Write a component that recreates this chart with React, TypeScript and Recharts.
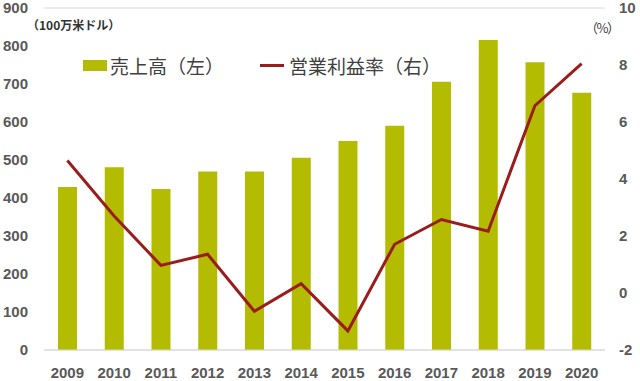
import { ComposedChart, Bar, Line, XAxis, YAxis, CartesianGrid } from 'recharts';

const years = ['2009', '2010', '2011', '2012', '2013', '2014', '2015', '2016', '2017', '2018', '2019', '2020'];
const sales = [429, 481, 424, 470, 470, 506, 550, 590, 706, 816, 757, 677];
const margin = [4.65, 2.7, 0.97, 1.36, -0.64, 0.33, -1.33, 1.71, 2.58, 2.17, 6.57, 8.05];
const leftTicks = [0, 100, 200, 300, 400, 500, 600, 700, 800, 900];
const rightTicks = [-2, 0, 2, 4, 6, 8, 10];

const BAR_COLOR = '#B3BC00';
const LINE_COLOR = '#9A1C1C';
const TICK_COLOR = '#595959';

const data = years.map((y, i) => ({ year: y, sales: sales[i], margin: margin[i] }));

const tickStyle = { fill: TICK_COLOR, fontSize: 15, fontWeight: 700, fontFamily: '"Liberation Sans", Arial, sans-serif' };

function LegendBox() {
  const text = { fontSize: 19, color: '#404040', fontFamily: '"Noto Sans CJK JP", sans-serif' };
  return (
    <div style={{ position: 'absolute', left: 83, top: 52, display: 'flex', alignItems: 'center', whiteSpace: 'nowrap' }}>
      <span style={{ width: 24, height: 11, background: BAR_COLOR, display: 'inline-block', marginRight: 3 }} />
      <span style={text}>売上高（左）</span>
      <span style={{ width: 24, height: 3, background: LINE_COLOR, display: 'inline-block', marginLeft: 36, marginRight: 5 }} />
      <span style={text}>営業利益率（右）</span>
    </div>
  );
}

export default function App() {
  return (
    <div style={{ position: 'absolute', left: 0, top: 0, width: 640, height: 381, background: '#fff' }}>
      <ComposedChart width={640} height={381} data={data} margin={{ top: 8, right: 0, left: 0, bottom: 0 }}>
        <CartesianGrid vertical={false} stroke="#D9D9D9" />
        <XAxis
          dataKey="year"
          height={31}
          axisLine={{ stroke: '#D9D9D9' }}
          tickLine={false}
          tickSize={0}
          tickMargin={17}
          tick={tickStyle}
          interval={0}
        />
        <YAxis
          yAxisId="left"
          width={44}
          domain={[0, 900]}
          ticks={leftTicks}
          axisLine={false}
          tickLine={false}
          tickSize={0}
          tickMargin={16}
          tick={tickStyle}
          interval={0}
        />
        <YAxis
          yAxisId="right"
          orientation="right"
          width={35}
          domain={[-2, 10]}
          ticks={rightTicks}
          axisLine={false}
          tickLine={false}
          tickSize={0}
          tickMargin={14}
          tick={{ ...tickStyle, textAnchor: 'start' }}
          interval={0}
        />
        <Bar yAxisId="left" dataKey="sales" fill={BAR_COLOR} barSize={19} isAnimationActive={false} />
        <Line
          yAxisId="right"
          dataKey="margin"
          type="linear"
          stroke={LINE_COLOR}
          strokeWidth={3}
          dot={false}
          isAnimationActive={false}
        />
      </ComposedChart>
      <LegendBox />
      <div style={{ position: 'absolute', left: 27, top: 16, fontSize: 12, fontWeight: 700, color: '#333', fontFamily: '"Noto Sans CJK JP", sans-serif', whiteSpace: 'nowrap' }}>
        （100万米ドル）
      </div>
      <div style={{ position: 'absolute', left: 585, top: 18, fontSize: 13, letterSpacing: -1.5, color: '#404040', fontFamily: '"Noto Sans CJK JP", sans-serif', whiteSpace: 'nowrap' }}>
        （%）
      </div>
    </div>
  );
}
